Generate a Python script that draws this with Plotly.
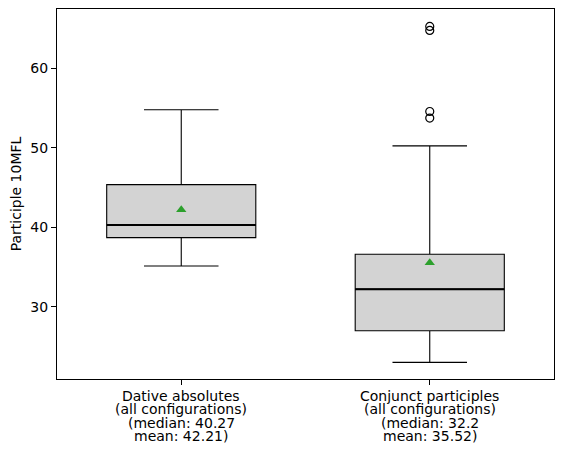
import plotly.graph_objects as go

# box statistics
positions = [1, 2]
labels = [
    "Dative absolutes\n(all configurations)\n(median: 40.27\nmean: 42.21)",
    "Conjunct participles\n(all configurations)\n(median: 32.2\nmean: 35.52)",
]
q1 = [38.69, 26.96]
median = [40.27, 32.2]
q3 = [45.37, 36.59]
lower_whisker = [35.12, 22.98]
upper_whisker = [54.79, 50.25]
means = [42.21, 35.52]
outlier_x = [2, 2, 2, 2]
outlier_y = [65.30, 64.79, 54.58, 53.75]
y_ticks = [30, 40, 50, 60]

FONT = "DejaVu Sans"
BOX_WIDTH = 0.6

fig = go.Figure()
fig.add_trace(
    go.Box(
        x=positions,
        q1=q1,
        median=median,
        q3=q3,
        lowerfence=lower_whisker,
        upperfence=upper_whisker,
        width=BOX_WIDTH,
        whiskerwidth=0.5,
        fillcolor="lightgray",
        line={"color": "black", "width": 1.1},
        boxpoints=False,
        showlegend=False,
        hoverinfo="skip",
    )
)
# thicker median lines, like matplotlib's
for pos, med in zip(positions, median):
    fig.add_trace(
        go.Scatter(
            x=[pos - BOX_WIDTH / 2, pos + BOX_WIDTH / 2],
            y=[med, med],
            mode="lines",
            line={"color": "black", "width": 2},
            showlegend=False,
            hoverinfo="skip",
        )
    )
fig.add_trace(
    go.Scatter(
        x=positions,
        y=means,
        mode="markers",
        marker={"symbol": "triangle-up", "size": 9, "color": "#2ca02c"},
        showlegend=False,
    )
)
fig.add_trace(
    go.Scatter(
        x=outlier_x,
        y=outlier_y,
        mode="markers",
        marker={"symbol": "circle-open", "size": 8, "color": "black", "line": {"width": 1.2}},
        showlegend=False,
    )
)

# multi-line tick labels with matplotlib-like line spacing
for pos, label in zip(positions, labels):
    for i, line in enumerate(label.split("\n")):
        fig.add_annotation(
            x=pos,
            y=0,
            xref="x",
            yref="paper",
            yanchor="top",
            yshift=-(7 + i * 13.4),
            text=line,
            showarrow=False,
            font={"family": FONT, "size": 14, "color": "black"},
        )

fig.update_layout(
    width=562,
    height=461,
    margin={"l": 57, "r": 8, "t": 9, "b": 82},
    plot_bgcolor="white",
    paper_bgcolor="white",
    font={"family": FONT, "size": 14, "color": "black"},
)
fig.update_xaxes(
    range=[0.5, 2.5],
    tickvals=positions,
    showticklabels=False,
    ticks="outside",
    ticklen=5,
    tickcolor="black",
    showline=True,
    mirror=True,
    linecolor="black",
    linewidth=1,
    showgrid=False,
    zeroline=False,
    automargin=False,
)
fig.update_yaxes(
    range=[20.88, 67.49],
    tickvals=y_ticks,
    ticks="outside",
    ticklen=5,
    tickcolor="black",
    showline=True,
    mirror=True,
    linecolor="black",
    linewidth=1,
    showgrid=False,
    zeroline=False,
    automargin=False,
    title={"text": "Participle 10MFL", "standoff": 5, "font": {"family": FONT, "size": 14}},
)

fig.write_html(
    "out.html",
    config={"displayModeBar": False},
    post_script="document.body.style.margin = '0';",
)
